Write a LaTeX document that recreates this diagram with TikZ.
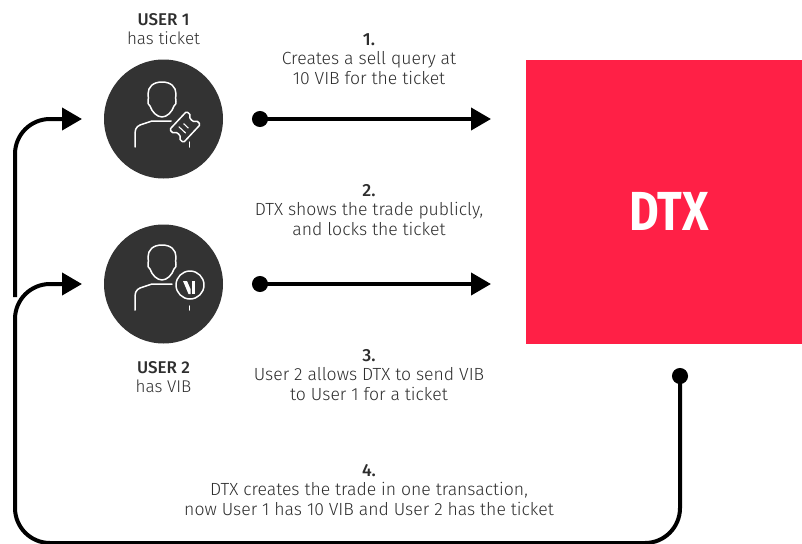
\documentclass[tikz,border=0pt]{standalone}
\usepackage{fontspec}
\setmainfont{Fira Sans Light}
\newfontfamily\boldf{Fira Sans Medium}
\newfontfamily\heavyf{Fira Sans}[BoldFont={Fira Sans Bold}]
\usetikzlibrary{arrows.meta}
\definecolor{dtxred}{HTML}{FF2046}
\definecolor{disc}{HTML}{333333}
\definecolor{txt}{HTML}{2E2E2E}
\tikzset{
  conn/.style={line width=4pt,black,rounded corners=35pt},
  headtip/.style={-{Triangle[length=20pt,width=22pt]}},
  dothead/.style={{Circle[length=16pt]}-{Triangle[length=20pt,width=22pt]}},
  icon/.style={draw=white,line width=1.5pt,line cap=round,line join=round},
  usr/.style={circle,fill=disc,minimum size=119pt,inner sep=0pt},
  lbl/.style={align=center,text=txt,font=\fontsize{17.6}{19.8}\selectfont,inner sep=0pt},
  ulbl/.style={align=center,text=txt,font=\fontsize{17}{18.8}\selectfont,inner sep=0pt},
}
\begin{document}
\begin{tikzpicture}[x=1pt,y=-1pt]
\useasboundingbox (0,0) rectangle (802,543);
\node[fill=dtxred,minimum width=276pt,minimum height=284pt,inner sep=0pt] (dtx) at (664,202) {};
\node[xscale=.83,inner sep=0pt,font=\fontsize{55}{55}\selectfont\heavyf\bfseries,text=white] (dtxl) at (669,211) {DTX};
\node[usr] (u1) at (163.5,119) {};
\node[usr] (u2) at (163.5,284) {};
\coordinate (a1s) at (252,119);
\coordinate (a1e) at (491,119);
\coordinate (a2s) at (252,284);
\coordinate (a2e) at (491,284);
\coordinate (d) at (680,368);
\coordinate (br) at (680,543);
\coordinate (bl) at (15,543);
\coordinate (t2) at (15,284);
\coordinate (h2) at (82,284);
\coordinate (s1) at (15,297);
\coordinate (t1) at (15,119);
\coordinate (h1) at (82,119);
\draw[conn,dothead] (a1s) -- (a1e);
\draw[conn,dothead] (a2s) -- (a2e);
\draw[conn,dothead] (d) -- (br) -- (bl) -- (t2) -- (h2);
\draw[conn,headtip] (s1) -- (t1) -- (h1);
% user 1 icon
\draw[icon] (162,82) .. controls (153,82) and (148,87) .. (148,94) .. controls (148,97) and (149,99) .. (148,101) .. controls (147,103) and (149,105) .. (150,106) .. controls (152,112) and (157,117) .. (162,117) .. controls (167,117) and (172,112) .. (174,106) .. controls (175,105) and (177,103) .. (176,101) .. controls (175,99) and (176,97) .. (176,94) .. controls (176,87) and (171,82) .. (162,82) -- cycle;
\draw[icon] (135,147) -- (135,133) .. controls (135,127) and (139,125) .. (143,124) -- (152,121) -- (171,121);
\draw[icon] (189.3,142) -- (189.3,147);
\begin{scope}[shift={(185,127)},rotate=47]
\draw[icon,rounded corners=1.5pt] (-12.5,-9.5) -- (12.5,-9.5) -- (12.5,-3.5) .. controls (9,-3.5) and (9,3.5) .. (12.5,3.5) -- (12.5,9.5) -- (-12.5,9.5) -- (-12.5,3.5) .. controls (-9,3.5) and (-9,-3.5) .. (-12.5,-3.5) -- cycle;
\draw[icon,line width=1.1pt] (-4,-4.5) -- (-4,4.5);
\draw[icon,line width=1.1pt] (1.5,-3) -- (1.5,3);
\end{scope}
% user 2 icon
\draw[icon] (162,245) .. controls (153,245) and (148,250) .. (148,257) .. controls (148,260) and (149,262) .. (148,264) .. controls (147,266) and (149,268) .. (150,269) .. controls (152,275) and (157,280) .. (162,280) .. controls (167,280) and (172,275) .. (174,269) .. controls (175,268) and (177,266) .. (176,264) .. controls (175,262) and (176,260) .. (176,257) .. controls (176,250) and (171,245) .. (162,245) -- cycle;
\draw[icon] (135,310) -- (135,296) .. controls (135,290) and (139,288) .. (143,287) -- (152,284) -- (172,284);
\draw[icon] (189.3,306) -- (189.3,310);
\draw[icon] (190,285) circle (14pt);
\fill[white] (183,281) -- (187,281) -- (190.5,289) -- (190.5,294) -- (188.5,294) -- cycle;
\fill[white] (192,281) -- (194.5,281) -- (194.5,294) -- (192,294) -- cycle;
% labels
\node[ulbl] (l1) at (163.5,29) {{\boldf USER 1}\\has ticket};
\node[ulbl] (l2) at (163.5,377) {{\boldf USER 2}\\has VIB};
\node[lbl] (t1x) at (369,59) {{\boldf 1.}\\Creates a sell query at\\10 VIB for the ticket};
\node[lbl] (t2x) at (369,210) {{\boldf 2.}\\DTX shows the trade publicly,\\and locks the ticket};
\node[lbl] (t3x) at (369,375) {{\boldf 3.}\\User 2 allows DTX to send VIB\\to User 1 for a ticket};
\node[lbl] (t4x) at (369,490) {{\boldf 4.}\\DTX creates the trade in one transaction,\\now User 1 has 10 VIB and User 2 has the ticket};
\end{tikzpicture}
\end{document}
